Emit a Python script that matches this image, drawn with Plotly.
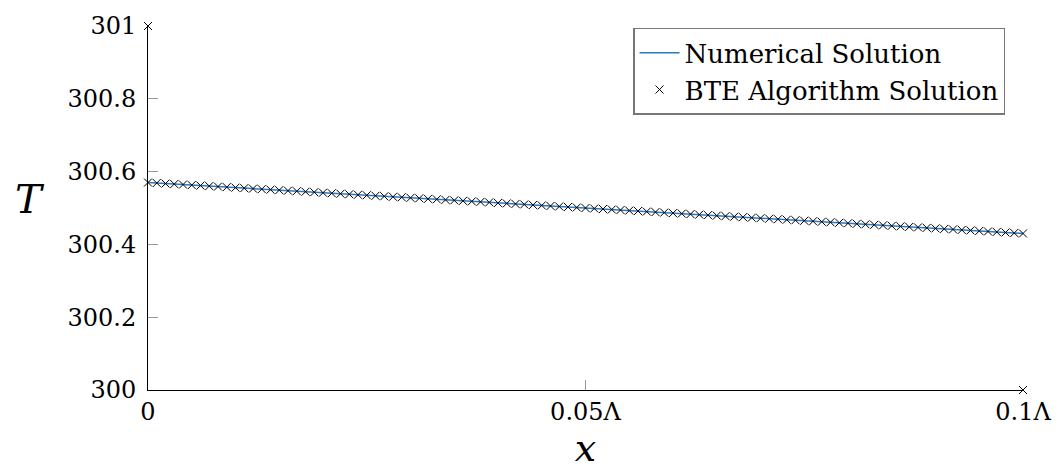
import plotly.graph_objects as go

x_vals = [
    0.000, 0.001, 0.002, 0.003, 0.004, 0.005, 0.006, 0.007, 0.008, 0.009,
    0.010, 0.011, 0.012, 0.013, 0.014, 0.015, 0.016, 0.017, 0.018, 0.019,
    0.020, 0.021, 0.022, 0.023, 0.024, 0.025, 0.026, 0.027, 0.028, 0.029,
    0.030, 0.031, 0.032, 0.033, 0.034, 0.035, 0.036, 0.037, 0.038, 0.039,
    0.040, 0.041, 0.042, 0.043, 0.044, 0.045, 0.046, 0.047, 0.048, 0.049,
    0.050, 0.051, 0.052, 0.053, 0.054, 0.055, 0.056, 0.057, 0.058, 0.059,
    0.060, 0.061, 0.062, 0.063, 0.064, 0.065, 0.066, 0.067, 0.068, 0.069,
    0.070, 0.071, 0.072, 0.073, 0.074, 0.075, 0.076, 0.077, 0.078, 0.079,
    0.080, 0.081, 0.082, 0.083, 0.084, 0.085, 0.086, 0.087, 0.088, 0.089,
    0.090, 0.091, 0.092, 0.093, 0.094, 0.095, 0.096, 0.097, 0.098, 0.099,
    0.100,
]

T_numerical = [
    300.5700, 300.5686, 300.5672, 300.5658, 300.5644, 300.5630, 300.5616, 300.5602, 300.5588, 300.5574,
    300.5560, 300.5546, 300.5532, 300.5518, 300.5504, 300.5490, 300.5476, 300.5462, 300.5448, 300.5434,
    300.5420, 300.5406, 300.5392, 300.5378, 300.5364, 300.5350, 300.5336, 300.5322, 300.5308, 300.5294,
    300.5280, 300.5266, 300.5252, 300.5238, 300.5224, 300.5210, 300.5196, 300.5182, 300.5168, 300.5154,
    300.5140, 300.5126, 300.5112, 300.5098, 300.5084, 300.5070, 300.5056, 300.5042, 300.5028, 300.5014,
    300.5000, 300.4986, 300.4972, 300.4958, 300.4944, 300.4930, 300.4916, 300.4902, 300.4888, 300.4874,
    300.4860, 300.4846, 300.4832, 300.4818, 300.4804, 300.4790, 300.4776, 300.4762, 300.4748, 300.4734,
    300.4720, 300.4706, 300.4692, 300.4678, 300.4664, 300.4650, 300.4636, 300.4622, 300.4608, 300.4594,
    300.4580, 300.4566, 300.4552, 300.4538, 300.4524, 300.4510, 300.4496, 300.4482, 300.4468, 300.4454,
    300.4440, 300.4426, 300.4412, 300.4398, 300.4384, 300.4370, 300.4356, 300.4342, 300.4328, 300.4314,
    300.4300,
]

T_bte = list(T_numerical)

boundary_x = [0.0, 0.1]
boundary_T = [301.0, 300.0]

x_tick_vals = [0, 0.05, 0.1]
x_tick_text = ["0", "0.05Λ", "0.1Λ"]
y_tick_vals = [300, 300.2, 300.4, 300.6, 300.8, 301]
y_tick_text = ["300", "300.2", "300.4", "300.6", "300.8", "301"]

FONT = "DejaVu Serif"

fig = go.Figure()
fig.add_trace(go.Scatter(
    x=x_vals, y=T_numerical, mode="lines", name="Numerical Solution",
    line=dict(color="#2a78c0", width=1.5), cliponaxis=False,
))
fig.add_trace(go.Scatter(
    x=x_vals + boundary_x, y=T_bte + boundary_T, mode="markers",
    name="BTE Algorithm Solution",
    marker=dict(symbol="x-thin", size=8, color="black",
                line=dict(color="black", width=1)),
    cliponaxis=False,
))

fig.update_layout(
    width=1063, height=472,
    margin=dict(l=148, r=38, t=19, b=82),
    paper_bgcolor="white", plot_bgcolor="white",
    font=dict(family=FONT, size=24, color="black"),
    showlegend=True,
    legend=dict(
        x=1.0 - (1025 - 1007) / 877, y=0.995, xanchor="right", yanchor="top",
        bordercolor="#777777", borderwidth=1.5, bgcolor="white",
        font=dict(family=FONT, size=26),
        itemwidth=40, tracegroupgap=0,
    ),
    annotations=[
        dict(text="<i>T</i>", xref="paper", yref="paper",
             x=-0.135, y=(390 - 195) / 371, xanchor="center", yanchor="middle",
             showarrow=False, font=dict(family=FONT, size=40)),
    ],
)
fig.update_xaxes(
    range=[0, 0.1], tickvals=x_tick_vals, ticktext=x_tick_text,
    showgrid=False, zeroline=False, showline=True, linecolor="black", linewidth=1,
    ticks="inside", ticklen=10, tickcolor="#999999", tickwidth=1,
    tickfont=dict(family=FONT, size=24),
    title=dict(text="<i>x</i>", font=dict(family=FONT, size=38), standoff=4),
)
fig.update_yaxes(
    range=[300, 301], tickvals=y_tick_vals, ticktext=y_tick_text,
    showgrid=False, zeroline=False, showline=True, linecolor="black", linewidth=1,
    ticks="inside", ticklen=10, tickcolor="#999999", tickwidth=1,
    tickfont=dict(family=FONT, size=24), ticklabelstandoff=6,
)

fig.write_html("out.html")
